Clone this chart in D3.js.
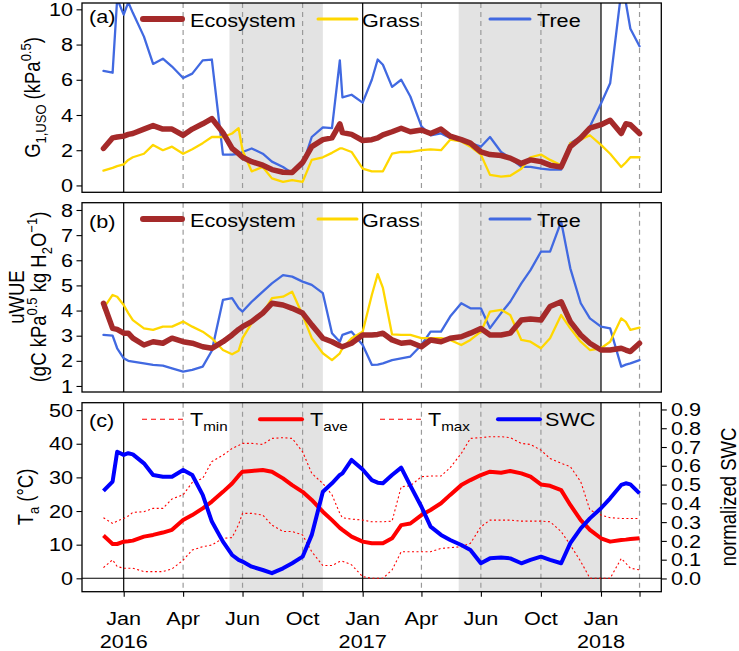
<!DOCTYPE html>
<html><head><meta charset="utf-8">
<script src="https://cdn.jsdelivr.net/npm/d3@7"></script>
<style>body{margin:0;background:#fff}svg{display:block}</style>
</head><body>
<script>
// ---------------- DATA ----------------
const dates = ["2015-12-01","2015-12-15","2015-12-22","2016-01-01","2016-01-08","2016-01-15","2016-02-01","2016-02-15","2016-03-01","2016-03-15","2016-04-01","2016-04-15","2016-05-01","2016-05-15","2016-06-01","2016-06-15","2016-06-25","2016-07-01","2016-07-15","2016-08-01","2016-08-15","2016-09-01","2016-09-15","2016-10-01","2016-10-15","2016-11-01","2016-11-15","2016-11-27","2016-12-01","2016-12-15","2017-01-01","2017-01-15","2017-01-24","2017-02-01","2017-02-15","2017-03-01","2017-03-15","2017-04-01","2017-04-15","2017-05-01","2017-05-15","2017-06-01","2017-06-15","2017-07-01","2017-07-15","2017-08-01","2017-08-15","2017-09-01","2017-09-15","2017-10-01","2017-10-15","2017-11-01","2017-11-15","2017-12-01","2017-12-15","2018-01-01","2018-01-15","2018-02-01","2018-02-08","2018-02-15","2018-03-01"];

const ecoG1 = [2.1,2.7,2.75,2.8,2.9,2.95,3.2,3.4,3.2,3.2,2.85,3.2,3.5,3.8,3.0,2.1,1.8,1.6,1.35,1.15,0.9,0.75,0.73,1.3,2.2,2.6,2.7,3.5,3.0,2.9,
  2.55,2.6,2.7,2.87,3.05,3.25,3.05,3.15,2.95,3.2,2.8,2.6,2.4,1.9,1.75,1.7,1.55,1.25,1.45,1.35,1.15,1.05,2.2,2.7,3.25,3.45,3.7,2.95,3.5,3.45,2.95];
const grassG1 = [0.84,1.0,1.1,1.2,1.45,1.6,1.8,2.3,2.0,2.2,1.8,2.05,2.4,2.75,2.75,2.95,3.25,2.0,0.8,1.05,0.4,0.2,0.3,0.2,1.45,1.6,1.85,2.1,2.1,1.9,
  0.95,0.8,0.8,0.8,1.8,1.9,1.9,2.0,2.05,2.0,2.6,2.5,2.2,1.75,0.6,0.5,0.55,0.95,1.6,1.75,1.45,1.15,2.4,2.6,2.85,2.3,1.8,1.05,1.3,1.6,1.6];
const treeG1 = [6.5,6.4,10.6,9.7,10.4,9.8,8.45,6.9,7.2,6.75,6.1,6.35,7.1,7.15,1.75,1.75,1.8,1.9,2.1,1.8,1.35,1.05,0.7,1.15,2.75,3.3,3.25,7.1,5.0,5.15,
  4.7,6.0,7.15,6.85,5.6,6.0,5.05,3.35,2.85,2.95,2.7,2.6,2.4,2.2,2.75,1.9,1.55,1.05,1.05,0.95,0.9,0.9,2.4,2.75,3.35,4.65,5.8,11.0,10.4,8.9,7.9];

const ecoWUE = [4.29,3.29,3.25,3.1,3.1,2.9,2.63,2.76,2.7,2.9,2.76,2.7,2.56,2.5,2.76,3.03,3.25,3.36,3.56,3.9,4.29,4.22,4.09,3.9,3.43,2.9,2.76,2.6,2.56,2.7,
  3.03,3.03,3.05,3.1,2.83,2.7,2.74,2.56,2.83,2.76,2.9,2.96,3.1,3.29,3.03,3.03,3.1,3.62,3.66,3.62,4.16,4.35,3.56,3.03,2.7,2.43,2.43,2.5,2.43,2.37,2.7];
const grassWUE = [4.09,4.62,4.55,4.22,3.9,3.62,3.29,3.23,3.36,3.36,3.56,3.36,3.16,2.9,2.43,2.26,2.4,2.9,3.5,3.9,4.49,4.55,4.75,3.82,2.9,2.3,2.03,2.3,2.5,2.9,
  3.16,4.62,5.45,4.9,3.05,3.03,3.03,2.9,2.9,2.9,2.83,2.63,2.83,3.16,3.96,4.03,3.82,2.83,2.76,2.5,2.9,3.82,3.29,2.76,2.43,2.5,2.76,3.69,3.55,3.23,3.32];
const treeWUE = [3.03,3.0,2.5,2.1,2.0,1.97,1.9,1.84,1.81,1.7,1.57,1.64,1.77,2.4,4.42,4.49,4.1,3.96,4.35,4.75,5.08,5.41,5.35,5.15,5.02,4.69,3.1,2.76,3.03,3.16,
  2.63,1.84,1.85,1.9,2.03,2.1,2.17,2.63,3.16,3.16,3.76,4.29,4.09,4.09,3.3,3.9,4.35,5.08,5.61,6.34,6.34,7.54,5.68,4.29,3.69,3.36,3.29,1.77,1.85,1.9,2.03];

const tmin = [3.2,5.5,3.5,3.0,3.0,3.0,2.0,2.0,2.0,2.8,5.4,8.4,9.4,9.9,11.9,12.1,16.0,19.3,19.3,18.8,15.8,13.9,13.9,12.9,7.9,3.8,3.8,5.0,5.1,4.0,
  0.5,0,0,0,2.5,7.9,7.9,7.9,7.9,8.9,9.1,9.4,10.4,15.3,17.3,17.3,17.3,17.0,17.0,17.0,16.8,13.9,9.9,5.0,0,0,0,5.9,4.5,3.0,2.5];
const tave = [12.7,10.2,10.2,10.9,11.0,11.2,12.4,12.9,13.6,14.4,17.3,18.8,20.8,22.8,25.7,28.2,30.5,31.7,31.9,32.2,31.7,29.7,27.7,25.7,23.3,19.8,17.3,15.0,14.4,12.4,
  10.9,10.4,10.4,10.4,11.9,15.8,16.3,18.8,20.3,22.3,24.8,27.7,29.2,30.7,31.7,31.4,31.9,31.2,30.2,27.9,27.5,26.2,21.8,17.3,14.4,11.9,10.9,11.4,11.5,11.7,11.9];
const tmax = [18.0,16.3,17.0,17.8,18.5,19.6,19.8,20.8,20.8,23.6,24.8,28.5,29.7,34.7,36.6,38.6,39.5,40.1,40.1,39.8,41.6,41.8,41.6,37.6,31.2,28.2,24.8,19.3,18.0,17.6,
  17.3,16.8,16.8,16.8,17.0,27.2,27.5,30.2,30.4,30.4,32.9,37.1,41.6,41.8,42.1,42.1,41.8,40.1,39.8,38.1,35.6,34.2,33.2,28.7,20.3,18.8,18.0,17.8,17.8,17.8,17.8];
const swc = [0.466,0.516,0.675,0.658,0.667,0.661,0.613,0.551,0.542,0.542,0.578,0.551,0.445,0.303,0.196,0.125,0.099,0.09,0.063,0.045,0.028,0.054,0.081,0.116,0.232,0.462,0.507,0.551,0.56,0.631,
  0.58,0.524,0.51,0.507,0.551,0.59,0.494,0.382,0.276,0.232,0.205,0.178,0.152,0.081,0.107,0.111,0.107,0.081,0.099,0.116,0.099,0.081,0.188,0.267,0.32,0.374,0.427,0.498,0.507,0.501,0.453];

const tickDates  = ["2016-01-01","2016-04-01","2016-07-01","2016-10-01","2017-01-01","2017-04-01","2017-07-01","2017-10-01","2018-01-01","2018-03-01"];
const tickLabels = ["Jan","Apr","Jun","Oct","Jan","Apr","Jun","Oct","Jan",""];
const tickYears  = ["2016","","","","2017","","","","2018",""];
const yearStarts = ["2016-01-01","2017-01-01","2018-01-01"];
const shadeRanges = [["2016-06-11","2016-11-01"],["2017-05-28","2018-01-01"]];

const ticksA = [0,2,4,6,8,10];
const ticksB = [1,2,3,4,5,6,7,8];
const ticksC = [0,10,20,30,40,50];
const ticksSWC = [0,0.1,0.2,0.3,0.4,0.5,0.6,0.7,0.8,0.9];

// ---------------- LAYOUT ----------------
const W = 739, H = 651;
const L = 82, R = 661.3;
const FS = 18.5, SX = 1.17, SUB = 13;
const FONT = "'Liberation Sans', Arial, Helvetica, sans-serif";
const COL = {eco:"#A52A2A", grass:"#FFD700", tree:"#4169E1", t:"#FF0000", swc:"#0000FF", shade:"#E3E3E3", dash:"#9A9A9A"};

const parse = d3.utcParse("%Y-%m-%d");
const dd = dates.map(parse);
const x = d3.scaleUtc().domain([parse("2016-01-01"), parse("2018-01-01")]).range([123.7, 601]);

const svg = d3.select("body").append("svg").attr("width", W).attr("height", H)
  .style("font-family", FONT).style("font-size", FS + "px");

function txt(g, px, py, anchor, rot) {
  return g.append("text")
    .attr("transform", `translate(${px},${py}) scale(${SX},1)` + (rot ? ` rotate(${rot})` : ""))
    .attr("text-anchor", anchor).attr("fill", "#000");
}

const panels = [
  {id:"a", top:3, bottom:192.3, domain:[-0.39,10.36], ticks:ticksA, fmt:d3.format("d"),
   series:[{v:treeG1,c:COL.tree,w:2.3},{v:grassG1,c:COL.grass,w:2.3},{v:ecoG1,c:COL.eco,w:5.5}]},
  {id:"b", top:202.7, bottom:392, domain:[0.76,8.29], ticks:ticksB, fmt:d3.format("d"),
   series:[{v:treeWUE,c:COL.tree,w:2.3},{v:grassWUE,c:COL.grass,w:2.3},{v:ecoWUE,c:COL.eco,w:5.5}]},
  {id:"c", top:402.7, bottom:591.7, domain:[-3.98,52.2], ticks:ticksC, fmt:d3.format("d"), series:[]}
];

panels.forEach(p => {
  const g = svg.append("g");
  const y = d3.scaleLinear().domain(p.domain).range([p.bottom, p.top]);
  p.y = y;
  const clipId = "clip" + p.id;
  svg.append("clipPath").attr("id", clipId).append("rect")
    .attr("x", L).attr("y", p.top).attr("width", R - L).attr("height", p.bottom - p.top);
  const inner = g.append("g").attr("clip-path", `url(#${clipId})`);
  p.inner = inner;
  shadeRanges.forEach(s => {
    inner.append("rect").attr("x", x(parse(s[0]))).attr("y", p.top)
      .attr("width", x(parse(s[1])) - x(parse(s[0]))).attr("height", p.bottom - p.top)
      .attr("fill", COL.shade);
  });
  tickDates.forEach(t => {
    const solid = yearStarts.includes(t);
    inner.append("line").attr("x1", x(parse(t))).attr("x2", x(parse(t)))
      .attr("y1", p.top).attr("y2", p.bottom)
      .attr("stroke", solid ? "#000" : COL.dash).attr("stroke-width", 1.2)
      .attr("stroke-dasharray", solid ? null : "5,4");
  });
  p.series.forEach(s => {
    const line = d3.line().x((d, i) => x(dd[i])).y(d => y(d));
    inner.append("path").datum(s.v).attr("d", line).attr("fill", "none")
      .attr("stroke", s.c).attr("stroke-width", s.w).attr("stroke-linejoin", "round").attr("stroke-linecap", "round");
  });
  const ax = g.append("g").attr("transform", `translate(${L},0)`)
    .call(d3.axisLeft(y).tickValues(p.ticks).tickSize(5.5).tickFormat(() => ""));
  ax.select(".domain").remove();
  ax.selectAll("line").attr("stroke", "#000").attr("stroke-width", 1.1);
  p.ticks.forEach(t => {
    txt(g, 73, y(t) + 6.6, "end").text(p.fmt(t));
  });
  g.append("rect").attr("x", L).attr("y", p.top).attr("width", R - L).attr("height", p.bottom - p.top)
    .attr("fill", "none").attr("stroke", "#000").attr("stroke-width", 1.3);
});

// ---------- panel c contents ----------
const pc = panels[2];
const yc = pc.y;
const ys = d3.scaleLinear().domain([-0.0705, 0.936]).range([591.7, 402.7]);
pc.inner.append("line").attr("x1", L).attr("x2", R).attr("y1", yc(0)).attr("y2", yc(0))
  .attr("stroke", "#000").attr("stroke-width", 1.1);
const lineT = d3.line().x((d, i) => x(dd[i])).y(d => yc(d));
[tmin, tmax].forEach(s => pc.inner.append("path").datum(s).attr("d", lineT).attr("fill", "none")
  .attr("stroke", COL.t).attr("stroke-width", 1.1).attr("stroke-dasharray", "2,2.5"));
pc.inner.append("path").datum(tave).attr("d", lineT).attr("fill", "none")
  .attr("stroke", COL.t).attr("stroke-width", 4).attr("stroke-linejoin", "round");
pc.inner.append("path").datum(swc).attr("d", d3.line().x((d, i) => x(dd[i])).y(d => ys(d)))
  .attr("fill", "none").attr("stroke", COL.swc).attr("stroke-width", 4).attr("stroke-linejoin", "round");

const rax = svg.append("g").attr("transform", `translate(${R},0)`)
  .call(d3.axisRight(ys).tickValues(ticksSWC).tickSize(5.5).tickFormat(() => ""));
rax.select(".domain").remove();
rax.selectAll("line").attr("stroke", "#000").attr("stroke-width", 1.1);
ticksSWC.forEach(t => txt(svg, 671, ys(t) + 6.6, "start").text(d3.format(".1f")(t)));

const bax = svg.append("g").attr("transform", `translate(0,${pc.bottom})`)
  .call(d3.axisBottom(x).tickValues(tickDates.map(parse)).tickSize(5).tickFormat(() => ""));
bax.select(".domain").remove();
bax.selectAll("line").attr("stroke", "#000").attr("stroke-width", 1.1);
tickDates.forEach((t, i) => {
  const px = x(parse(t));
  if (tickLabels[i]) txt(svg, px, 625, "middle").text(tickLabels[i]);
  if (tickYears[i]) txt(svg, px, 648, "middle").text(tickYears[i]);
});

// ---------- panel letters ----------
txt(svg, 89, 22.5, "start").text("(a)");
txt(svg, 89, 227.5, "start").text("(b)");
txt(svg, 89, 426.5, "start").text("(c)");

// ---------- legends ----------
function legLine(y0, x1, x2, color, w, dash) {
  svg.append("line").attr("x1", x1).attr("x2", x2).attr("y1", y0).attr("y2", y0)
    .attr("stroke", color).attr("stroke-width", w).attr("stroke-dasharray", dash || null)
    .attr("stroke-linecap", dash ? "butt" : "round");
}
[[19, 26.5], [219, 226.5]].forEach(([ly, ty]) => {
  legLine(ly, 143, 182, COL.eco, 6);
  txt(svg, 190, ty, "start").text("Ecosystem");
  legLine(ly, 318, 357, COL.grass, 3);
  txt(svg, 362, ty, "start").text("Grass");
  legLine(ly, 490, 530, COL.tree, 3);
  txt(svg, 537, ty, "start").text("Tree");
});
function tSub(t, s) {
  t.text("T");
  t.append("tspan").attr("font-size", SUB).attr("dy", 5).text(s);
}
legLine(419.3, 142, 183, COL.t, 1.1, "5,4");
tSub(txt(svg, 190, 425.7, "start"), "min");
legLine(419.3, 260, 302, COL.t, 4);
tSub(txt(svg, 310, 425.7, "start"), "ave");
legLine(419.3, 380, 421, COL.t, 1.1, "5,4");
tSub(txt(svg, 428, 425.7, "start"), "max");
legLine(419.3, 498, 540, COL.swc, 4);
txt(svg, 545, 425.7, "start").text("SWC");

// ---------- axis titles ----------
{
  const t = txt(svg, 40, 97.5, "middle", -90);
  t.append("tspan").text("G");
  t.append("tspan").attr("font-size", SUB).attr("dy", 5).text("1,USO");
  t.append("tspan").attr("dy", -5).text(" (kPa");
  t.append("tspan").attr("font-size", SUB).attr("dy", -8).text("0.5");
  t.append("tspan").attr("dy", 8).text(")");
}
{
  txt(svg, 24, 297, "middle", -90).text("uWUE");
  const t = txt(svg, 46, 297, "middle", -90);
  t.append("tspan").text("(gC kPa");
  t.append("tspan").attr("font-size", SUB).attr("dy", -8).text("0.5");
  t.append("tspan").attr("dy", 8).text(" kg H");
  t.append("tspan").attr("font-size", SUB).attr("dy", 5).text("2");
  t.append("tspan").attr("dy", -5).text("O");
  t.append("tspan").attr("font-size", SUB).attr("dy", -8).text("\u22121");
  t.append("tspan").attr("dy", 8).text(")");
}
{
  const t = txt(svg, 33, 497, "middle", -90);
  t.append("tspan").text("T");
  t.append("tspan").attr("font-size", SUB).attr("dy", 5).text("a");
  t.append("tspan").attr("dy", -5).text(" (\u00B0C)");
}
txt(svg, 736, 497, "middle", -90).text("normalized SWC");
</script>
</body></html>
